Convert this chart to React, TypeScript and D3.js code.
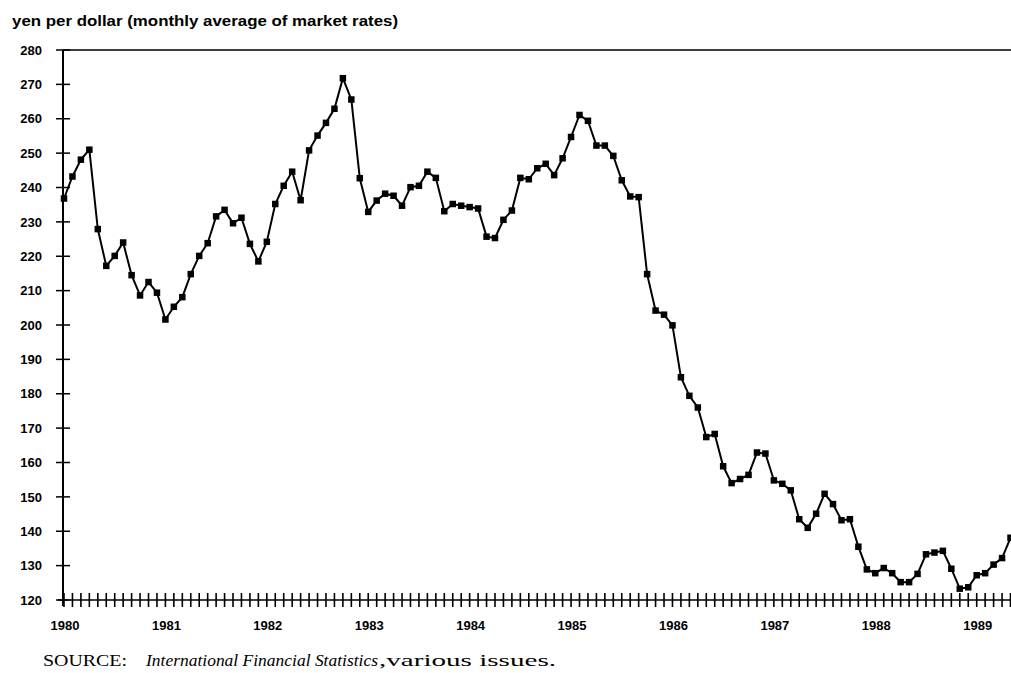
import React, { useRef, useEffect } from "react";
import * as d3 from "d3";

// monthly average yen per dollar, Jan 1980 .. May 1989
const years = [1980, 1981, 1982, 1983, 1984, 1985, 1986, 1987, 1988, 1989];
const yTicks = [120, 130, 140, 150, 160, 170, 180, 190, 200, 210, 220, 230, 240, 250, 260, 270, 280];

const rates1980 = [236.8, 243.2, 248.1, 251.0, 227.9, 217.2, 220.1, 224.0, 214.5, 208.6, 212.5, 209.4];
const rates1981 = [201.6, 205.3, 208.1, 214.8, 220.1, 223.8, 231.6, 233.5, 229.6, 231.2, 223.6, 218.5];
const rates1982 = [224.2, 235.2, 240.5, 244.6, 236.3, 250.8, 255.1, 258.8, 262.9, 271.8, 265.6, 242.7];
const rates1983 = [232.9, 236.2, 238.2, 237.6, 234.7, 240.1, 240.5, 244.6, 242.8, 233.1, 235.2, 234.7];
const rates1984 = [234.3, 233.9, 225.7, 225.3, 230.6, 233.3, 242.8, 242.4, 245.6, 246.9, 243.6, 248.5];
const rates1985 = [254.7, 261.1, 259.4, 252.2, 252.2, 249.2, 242.1, 237.4, 237.2, 214.8, 204.2, 203.0];
const rates1986 = [199.9, 184.8, 179.4, 176.0, 167.4, 168.3, 158.9, 154.0, 155.2, 156.4, 162.9, 162.6];
const rates1987 = [154.8, 153.8, 151.9, 143.5, 141.0, 145.1, 150.9, 147.9, 143.2, 143.5, 135.5, 128.9];
const rates1988 = [127.8, 129.3, 127.8, 125.2, 125.2, 127.6, 133.3, 133.8, 134.3, 129.1, 123.3, 123.7];
const rates1989 = [127.2, 127.8, 130.3, 132.2, 138.1];

const rates = [
  ...rates1980, ...rates1981, ...rates1982, ...rates1983, ...rates1984,
  ...rates1985, ...rates1986, ...rates1987, ...rates1988, ...rates1989,
];

const W = 1011;
const H = 673;

const App = () => {
  const svgRef = useRef<SVGSVGElement>(null);

  useEffect(() => {
    const svg = d3.select(svgRef.current);
    svg.selectAll("*").remove();

    // month index -> px
    const x = d3.scaleLinear().domain([0, 112]).range([64, 1010.5]);
    const y = d3.scaleLinear().domain([120, 280]).range([600, 50]);
    const axisX = 63;

    const tickFont = "'Liberation Sans', Arial, sans-serif";

    // title
    svg.append("text")
      .attr("x", 12)
      .attr("y", 26)
      .attr("font-family", tickFont)
      .attr("font-weight", "bold")
      .attr("font-size", 15)
      .attr("textLength", 386)
      .attr("lengthAdjust", "spacingAndGlyphs")
      .text("yen per dollar (monthly average of market rates)");

    // top frame line
    svg.append("line")
      .attr("x1", axisX).attr("x2", W)
      .attr("y1", y(280)).attr("y2", y(280))
      .attr("stroke", "#000").attr("stroke-width", 1.6);

    // y axis
    svg.append("line")
      .attr("x1", axisX).attr("x2", axisX)
      .attr("y1", y(280)).attr("y2", y(120) + 6)
      .attr("stroke", "#000").attr("stroke-width", 2);

    const yg = svg.append("g");
    yg.selectAll("line")
      .data(yTicks)
      .join("line")
      .attr("x1", axisX - 7).attr("x2", axisX + 7)
      .attr("y1", (d) => y(d)).attr("y2", (d) => y(d))
      .attr("stroke", "#000").attr("stroke-width", 1.5);
    yg.selectAll("text")
      .data(yTicks)
      .join("text")
      .attr("x", 42)
      .attr("y", (d) => y(d))
      .attr("dy", "0.36em")
      .attr("text-anchor", "end")
      .attr("font-family", tickFont)
      .attr("font-weight", "bold")
      .attr("font-size", 13)
      .text((d) => d);

    // x axis with monthly crossing ticks
    svg.append("line")
      .attr("x1", axisX - 5).attr("x2", W)
      .attr("y1", y(120)).attr("y2", y(120))
      .attr("stroke", "#000").attr("stroke-width", 1.5);

    const months = d3.range(0, 114);
    svg.append("g")
      .selectAll("line")
      .data(months)
      .join("line")
      .attr("x1", (d) => x(d)).attr("x2", (d) => x(d))
      .attr("y1", y(120) - 7).attr("y2", y(120) + 7)
      .attr("stroke", "#000").attr("stroke-width", 1.6);

    svg.append("g")
      .selectAll("text")
      .data(years)
      .join("text")
      .attr("x", (d, i) => x(i * 12) + 1)
      .attr("y", 630)
      .attr("text-anchor", "middle")
      .attr("font-family", tickFont)
      .attr("font-weight", "bold")
      .attr("font-size", 13)
      .text((d) => d);

    // series
    const line = d3.line<number>()
      .x((d, i) => x(i))
      .y((d) => y(d));

    svg.append("path")
      .datum(rates)
      .attr("fill", "none")
      .attr("stroke", "#000")
      .attr("stroke-width", 2)
      .attr("d", line);

    const s = 6.5;
    svg.append("g")
      .selectAll("rect")
      .data(rates)
      .join("rect")
      .attr("x", (d, i) => x(i) - s / 2)
      .attr("y", (d) => y(d) - s / 2)
      .attr("width", s)
      .attr("height", s)
      .attr("fill", "#000");

    // source note
    const src = svg.append("g")
      .attr("font-family", "'Liberation Serif', 'Times New Roman', serif")
      .attr("font-size", 17);
    src.append("text")
      .attr("x", 43).attr("y", 666)
      .attr("textLength", 84).attr("lengthAdjust", "spacingAndGlyphs")
      .text("SOURCE:");
    src.append("text")
      .attr("x", 146).attr("y", 666)
      .attr("font-style", "italic")
      .attr("textLength", 232).attr("lengthAdjust", "spacingAndGlyphs")
      .text("International Financial Statistics");
    src.append("text")
      .attr("x", 379).attr("y", 666)
      .attr("textLength", 177).attr("lengthAdjust", "spacingAndGlyphs")
      .text(",various issues.");
  }, []);

  return (
    <svg
      ref={svgRef}
      width={W}
      height={H}
      style={{ position: "absolute", left: 0, top: 0, display: "block", background: "#fff" }}
    ></svg>
  );
};

export default App;
